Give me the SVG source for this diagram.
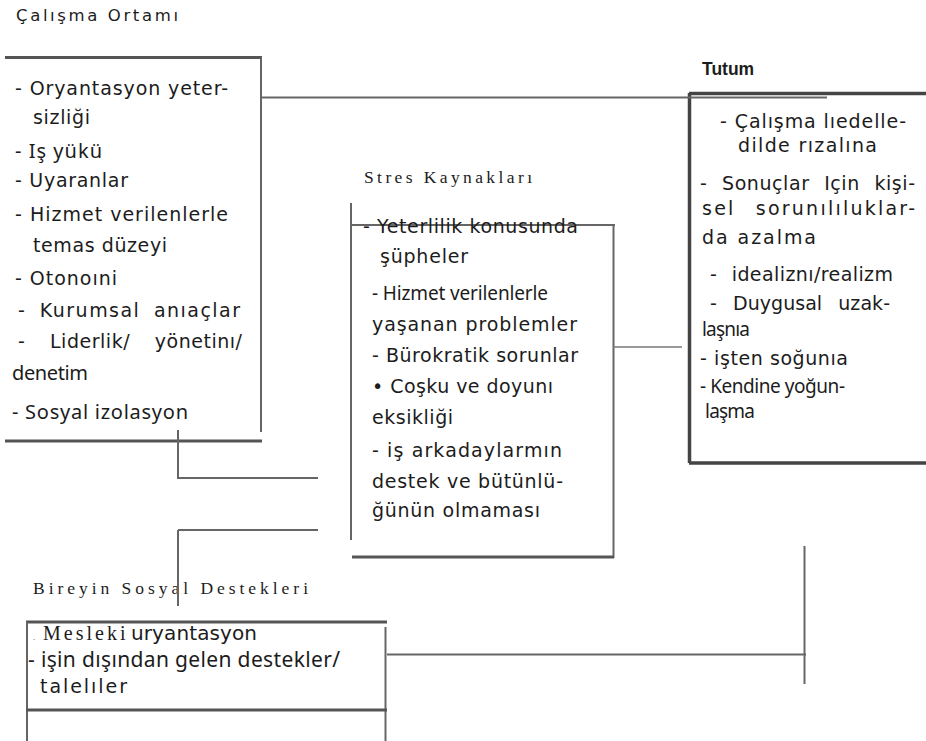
<svg xmlns="http://www.w3.org/2000/svg" width="926" height="741" viewBox="0 0 926 741">
<style>
text{fill:#1c1c1c}
.b{font-family:"DejaVu Sans",Verdana,sans-serif;font-size:19px}
.c{font-family:"Noto Sans","Liberation Sans",Tahoma,sans-serif;font-size:19px}
.cc{font-family:"Noto Sans","Liberation Sans",Tahoma,sans-serif;font-size:20px}
.bb{font-family:"DejaVu Sans",Verdana,sans-serif;font-size:20px}
.h{font-family:"DejaVu Sans",Verdana,sans-serif;font-size:16.5px}
.s{font-family:"Liberation Serif","Times New Roman",serif;font-size:17.5px}
.t{font-family:"Liberation Sans",Arial,sans-serif;font-size:17.5px;font-weight:bold}
.k{stroke:#555;stroke-width:3;fill:none}
.kd{stroke:#444;stroke-width:3.5;fill:none}
.n{stroke:#666;stroke-width:2;fill:none}
.f{stroke:#777;stroke-width:1.5;fill:none}
</style>
<rect width="926" height="741" fill="#fff"/>

<g id="calisma-ortami">
<text class="h" x="16" y="21" textLength="162" lengthAdjust="spacing">Çalışma Ortamı</text>
<path class="k" d="M5 57.5H262"/>
<path class="n" d="M261 57V432"/>
<path class="k" d="M5 441H262"/>
<text class="b" x="15" y="95" textLength="213" lengthAdjust="spacing">- Oryantasyon yeter-</text>
<text class="b" x="33" y="124" textLength="57" lengthAdjust="spacing">sizliği</text>
<text class="cc" x="15" y="158" textLength="87" lengthAdjust="spacing">- Iş yükü</text>
<text class="b" x="15" y="187" textLength="113" lengthAdjust="spacing">- Uyaranlar</text>
<text class="b" x="15" y="221" textLength="213" lengthAdjust="spacing">- Hizmet verilenlerle</text>
<text class="b" x="33" y="252" textLength="134" lengthAdjust="spacing">temas düzeyi</text>
<text class="b" x="15" y="285" textLength="102" lengthAdjust="spacing">- Otonoıni</text>
<text class="b" x="18" y="317" textLength="222" lengthAdjust="spacing" word-spacing="6">- Kurumsal anıaçlar</text>
<text class="b" x="18" y="348" textLength="224" lengthAdjust="spacing" word-spacing="18">- Liderlik/ yönetinı/</text>
<text class="cc" x="12" y="380" textLength="76" lengthAdjust="spacing">denetim</text>
<text class="cc" x="12" y="419" textLength="176" lengthAdjust="spacing">- Sosyal izolasyon</text>
</g>

<g id="stres-kaynaklari">
<text class="s" x="364" y="183" textLength="168" lengthAdjust="spacing">Stres Kaynakları</text>
<path class="n" d="M351 203V540"/>
<path class="n" d="M351 225H615"/>
<path class="n" d="M613.5 225V558"/>
<path class="k" d="M352 557H614"/>
<text class="b" x="363" y="233" textLength="215" lengthAdjust="spacing">- Yeterlilik konusunda</text>
<text class="b" x="380" y="263" textLength="88" lengthAdjust="spacing">şüpheler</text>
<text class="c" x="372" y="300" textLength="176" lengthAdjust="spacing">- Hizmet verilenlerle</text>
<text class="b" x="372" y="331" textLength="205" lengthAdjust="spacing">yaşanan problemler</text>
<text class="b" x="372" y="362" textLength="206" lengthAdjust="spacing">- Bürokratik sorunlar</text>
<text class="b" x="372" y="393" textLength="181" lengthAdjust="spacing">• Coşku ve doyunı</text>
<text class="b" x="372" y="424" textLength="81" lengthAdjust="spacing">eksikliği</text>
<text class="b" x="372" y="457" textLength="190" lengthAdjust="spacing">- iş arkadaylarmın</text>
<text class="b" x="372" y="488" textLength="191" lengthAdjust="spacing">destek ve bütünlü-</text>
<text class="b" x="372" y="517" textLength="168" lengthAdjust="spacing">ğünün olmaması</text>
</g>

<g id="tutum">
<text class="t" x="702" y="75">Tutum</text>
<path class="kd" d="M689 93.5H926M689.5 93V463M689 463H926"/>
<text class="b" x="720" y="128" textLength="186" lengthAdjust="spacing">- Çalışma lıedelle-</text>
<text class="b" x="738" y="152" textLength="139" lengthAdjust="spacing">dilde rızalına</text>
<text class="b" x="700" y="190" textLength="215" lengthAdjust="spacing" word-spacing="8">- Sonuçlar Için kişi-</text>
<text class="b" x="702" y="215" textLength="213" lengthAdjust="spacing" word-spacing="12">sel sorunılıluklar-</text>
<text class="b" x="702" y="244" textLength="114" lengthAdjust="spacing">da azalma</text>
<text class="b" x="710" y="281" textLength="183" lengthAdjust="spacing" word-spacing="8">- idealiznı/realizm</text>
<text class="b" x="710" y="310" textLength="180" lengthAdjust="spacing" word-spacing="10">- Duygusal uzak-</text>
<text class="c" x="702" y="336" textLength="48" lengthAdjust="spacing">laşnıa</text>
<text class="b" x="700" y="365" textLength="148" lengthAdjust="spacing">- işten soğunıa</text>
<text class="c" x="700" y="393" textLength="145" lengthAdjust="spacing">- Kendine yoğun-</text>
<text class="c" x="705" y="418" textLength="50" lengthAdjust="spacing">laşma</text>
</g>

<g id="sosyal-destekler">
<text class="s" x="33" y="594" textLength="275" lengthAdjust="spacing">Bireyin Sosyal Destekleri</text>
<path class="k" d="M26 622H387"/>
<path class="n" d="M27 622V741"/>
<path class="n" d="M385.5 627V741"/>
<path class="k" d="M26 710H387"/>
<text y="640"><tspan x="33" style="font-family:'Liberation Serif',serif;font-size:8px">.</tspan> <tspan x="43" style="font-family:'Liberation Serif',serif;font-size:20px;letter-spacing:3px">Mesleki</tspan> <tspan x="131" class="bb" textLength="126" lengthAdjust="spacing">uryantasyon</tspan></text>
<text class="cc" x="28" y="667" style="font-size:21px" textLength="312" lengthAdjust="spacing">- işin dışından gelen destekler/</text>
<text class="b" x="40" y="693" textLength="87" lengthAdjust="spacing">talelıler</text>
</g>

<g id="connectors">
<path class="n" d="M262 97.5H827"/>
<path class="n" d="M178 430V478H318"/>
<path class="n" d="M178 530H318M178 530V606"/>
<path class="f" d="M613 347H682"/>
<path class="n" d="M387 654.5H806"/>
<path class="n" d="M804.5 546V684"/>
</g>
</svg>
